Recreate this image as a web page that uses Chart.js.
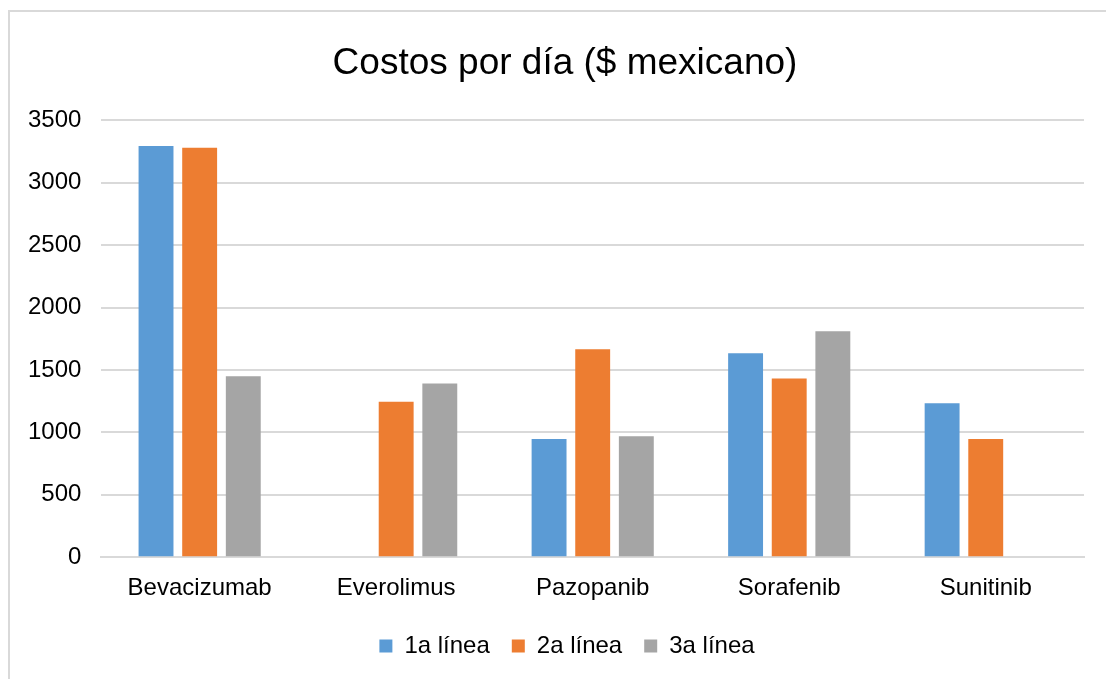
<!DOCTYPE html>
<html>
<head>
<meta charset="utf-8">
<script src="https://cdn.jsdelivr.net/npm/chart.js@4"></script>
<style>
    html, body { margin: 0; padding: 0; background: #fff; overflow: hidden; }
    #frame {
        position: absolute;
        left: 8px;
        top: 10px;
        width: 1110px;
        height: 680px;
        border-left: 2px solid #d9d9d9;
        border-top: 2px solid #d9d9d9;
    }
    #wrap { position: absolute; left: 8px; top: 12px; width: 1098px; height: 667px; }
</style>
</head>
<body>
<div id="frame"></div>
<div id="wrap"><canvas id="chart"></canvas></div>
<script>
const drugs = ['Bevacizumab', 'Everolimus', 'Pazopanib', 'Sorafenib', 'Sunitinib'];
const primeraLinea = [3295, null, 947, 1635, 1233];
const segundaLinea = [3280, 1246, 1667, 1431, 947];
const terceraLinea = [1450, 1391, 969, 1811, null];
const seriesNames = ['1a línea', '2a línea', '3a línea'];
const seriesColors = ['#5b9bd5', '#ed7d31', '#a5a5a5'];

const font = 'Liberation Sans, Arial, sans-serif';

// title and legend sit a little right of the canvas centre in the original
const nudgeHeaders = {
    id: 'nudgeHeaders',
    afterLayout: (chart) => {
        chart.titleBlock.left += 38;
        chart.legend.left += 42;
    }
};

new Chart(
    document.getElementById('chart'),
    {
        type: 'bar',
        data: {
            labels: drugs,
            datasets: [primeraLinea, segundaLinea, terceraLinea].map((values, i) => ({
                label: seriesNames[i],
                data: values,
                backgroundColor: seriesColors[i],
                categoryPercentage: 0.666,
                barPercentage: 0.8
            }))
        },
        options: {
            responsive: true,
            maintainAspectRatio: false,
            animation: false,
            layout: {
                padding: { left: 0, right: 22, top: 10, bottom: 11 }
            },
            plugins: {
                title: {
                    display: true,
                    text: 'Costos por día ($ mexicano)',
                    color: '#000',
                    font: { family: font, size: 37, weight: 'normal' },
                    padding: { top: 20, bottom: 34 }
                },
                legend: {
                    position: 'bottom',
                    labels: {
                        color: '#000',
                        font: { family: font, size: 24 },
                        boxWidth: 13,
                        boxHeight: 13,
                        padding: 22
                    }
                },
                tooltip: { enabled: false }
            },
            scales: {
                x: {
                    grid: { display: false },
                    border: { color: '#d9d9d9', width: 2 },
                    ticks: {
                        color: '#000',
                        font: { family: font, size: 24 },
                        padding: 9
                    }
                },
                y: {
                    min: 0,
                    max: 3500,
                    ticks: {
                        stepSize: 500,
                        color: '#000',
                        font: { family: font, size: 24 },
                        padding: 20,
                        callback: (value) => String(value)
                    },
                    border: { display: false },
                    grid: { color: '#d9d9d9', lineWidth: 2, drawTicks: false }
                }
            }
        },
        plugins: [nudgeHeaders]
    }
);
</script>
</body>
</html>
